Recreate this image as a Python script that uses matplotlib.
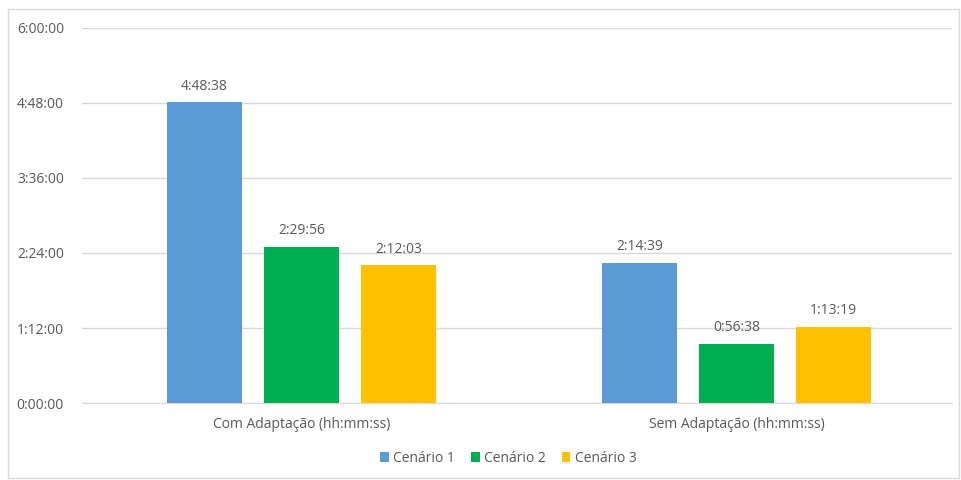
import numpy as np
import matplotlib.pyplot as plt
from matplotlib.patches import Rectangle

categories = ["Com Adaptação (hh:mm:ss)", "Sem Adaptação (hh:mm:ss)"]
series_names = ["Cenário 1", "Cenário 2", "Cenário 3"]
cenario1 = ["4:48:38", "2:14:39"]
cenario2 = ["2:29:56", "0:56:38"]
cenario3 = ["2:12:03", "1:13:19"]
colors = ["#5b9bd5", "#00b050", "#ffc000"]
y_ticks = ["0:00:00", "1:12:00", "2:24:00", "3:36:00", "4:48:00", "6:00:00"]


def to_sec(s):
    h, m, sec = s.split(":")
    return int(h) * 3600 + int(m) * 60 + int(sec)


text_color = "#595959"
plt.rcParams["font.family"] = ["Open Sans", "DejaVu Sans"]

fig = plt.figure(figsize=(9.62, 4.8), dpi=100)
ax = fig.add_axes([0.0852, 0.1604, 0.9044, 0.7813])

x = np.arange(len(categories))
width = 0.172
offset = 0.223
for i, (name, vals) in enumerate(zip(series_names, [cenario1, cenario2, cenario3])):
    secs = [to_sec(v) for v in vals]
    pos = x + (i - 1) * offset
    ax.bar(pos, secs, width, color=colors[i], label=name, zorder=3)
    for p, s, lbl in zip(pos, secs, vals):
        ax.text(p, s + 500, lbl, ha="center", va="bottom", fontsize=10, color=text_color)

ax.set_xlim(-0.505, 1.495)
ax.set_ylim(0, 21600)
ax.set_yticks([to_sec(t) for t in y_ticks])
ax.set_yticklabels(y_ticks)
ax.set_xticks(x)
ax.set_xticklabels(categories)
ax.tick_params(axis="both", length=0, labelsize=10, labelcolor=text_color)
ax.tick_params(axis="y", pad=13)
ax.tick_params(axis="x", pad=10)
ax.grid(axis="y", color="#d9d9d9", linewidth=1, zorder=0)
for side in ["left", "right", "top"]:
    ax.spines[side].set_visible(False)
ax.spines["bottom"].set_color("#d9d9d9")

ax.legend(loc="center", bbox_to_anchor=(0.49, -0.148), ncol=3, frameon=False,
          fontsize=10, labelcolor=text_color, handlelength=0.6, handleheight=0.7,
          handletextpad=0.3, columnspacing=1.2)

fig.patches.append(Rectangle((8 / 962, 2 / 480), 951 / 962, 469 / 480, transform=fig.transFigure,
                             fill=False, edgecolor="#d9d9d9", linewidth=1))

fig.savefig("out.png", dpi=100)
